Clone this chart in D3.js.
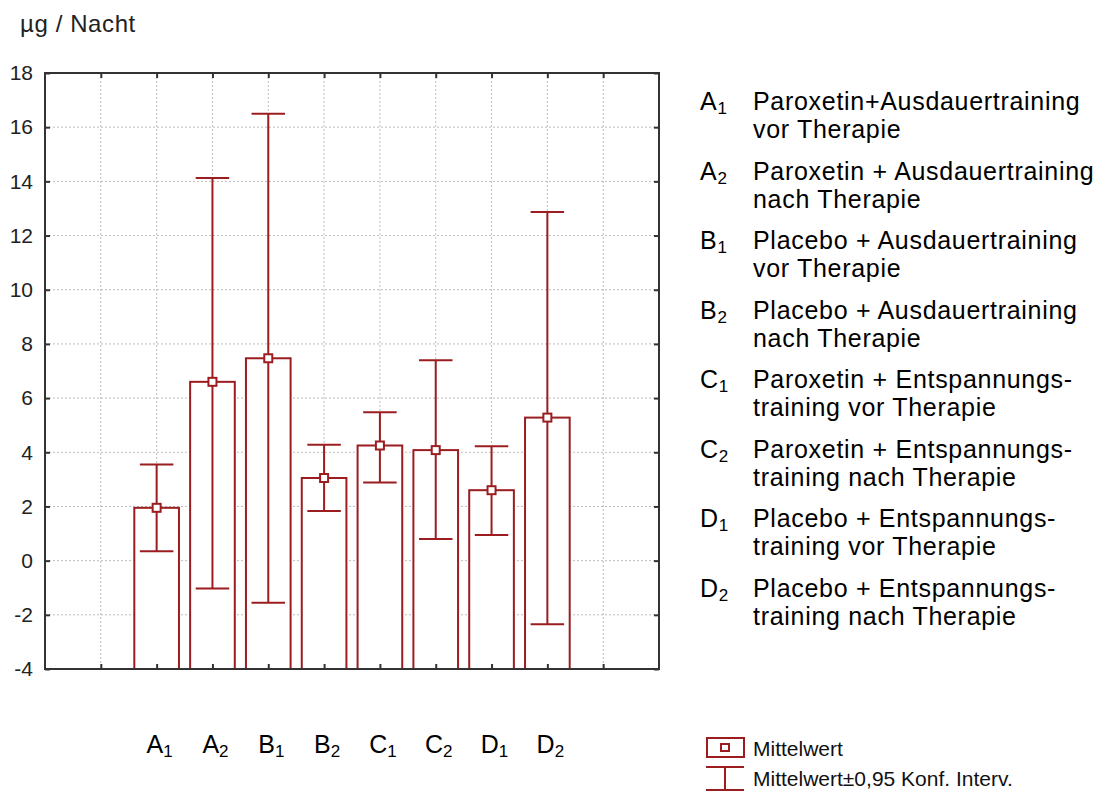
<!DOCTYPE html>
<html>
<head>
<meta charset="utf-8">
<script src="https://cdn.jsdelivr.net/npm/d3@7"></script>
<style>
  body { margin: 0; background: #fff; }
  svg { font-family: "Liberation Sans", Arial, sans-serif; }
</style>
</head>
<body>
<svg class="chart" width="1105" height="791"></svg>
<script>
// data
const groups = ["A", "A", "B", "B", "C", "C", "D", "D"];
const subs = ["1", "2", "1", "2", "1", "2", "1", "2"];
const means = [1.95, 6.6, 7.47, 3.05, 4.25, 4.08, 2.6, 5.28];
const lower = [0.35, -1.03, -1.55, 1.83, 2.88, 0.8, 0.95, -2.35];
const upper = [3.55, 14.12, 16.5, 4.28, 5.48, 7.4, 4.22, 12.87];
const descriptions = [
  ["Paroxetin+Ausdauertraining", "vor Therapie"],
  ["Paroxetin + Ausdauertraining", "nach Therapie"],
  ["Placebo + Ausdauertraining", "vor Therapie"],
  ["Placebo + Ausdauertraining", "nach Therapie"],
  ["Paroxetin + Entspannungs-", "training vor Therapie"],
  ["Paroxetin + Entspannungs-", "training nach Therapie"],
  ["Placebo + Entspannungs-", "training vor Therapie"],
  ["Placebo + Entspannungs-", "training nach Therapie"],
];
const yTicks = [-4, -2, 0, 2, 4, 6, 8, 10, 12, 14, 16, 18];
const legendLabels = ["Mittelwert", "Mittelwert±0,95 Konf. Interv."];

const red = "#9b1d20";
const svg = d3.select(".chart");

const pLeft = 45, pRight = 659, pTop = 73, pBottom = 669;
const x = d3.scaleLinear().domain([0, 11]).range([pLeft, pRight]);
const y = d3.scaleLinear().domain([-4, 18]).range([pBottom, pTop]);

const data = means.map((m, i) => ({
  g: groups[i], s: subs[i], pos: i + 2, mean: m, lo: lower[i], hi: upper[i]
}));

// grid
const grid = svg.append("g");
grid.selectAll("line.h")
  .data(yTicks.filter((t) => t > -4 && t < 18))
  .enter().append("line")
  .attr("x1", pLeft).attr("x2", pRight)
  .attr("y1", (d) => y(d)).attr("y2", (d) => y(d))
  .attr("stroke", "#bdbdbd").attr("stroke-dasharray", "2,2");
grid.selectAll("line.v")
  .data(d3.range(1, 11))
  .enter().append("line")
  .attr("y1", pTop).attr("y2", pBottom)
  .attr("x1", (d) => x(d)).attr("x2", (d) => x(d))
  .attr("stroke", "#bdbdbd").attr("stroke-dasharray", "2,2");

// bars + error bars
const plot = svg.append("g");
const halfBar = 0.4, halfCap = 0.3;

plot.selectAll("rect.bar")
  .data(data)
  .enter().append("rect")
  .attr("x", (d) => x(d.pos - halfBar))
  .attr("width", (d) => x(d.pos + halfBar) - x(d.pos - halfBar))
  .attr("y", (d) => y(d.mean))
  .attr("height", (d) => y(-4) - y(d.mean))
  .attr("fill", "#fff").attr("stroke", red).attr("stroke-width", 2);

plot.selectAll("line.whisk")
  .data(data)
  .enter().append("line")
  .attr("x1", (d) => x(d.pos)).attr("x2", (d) => x(d.pos))
  .attr("y1", (d) => y(d.lo)).attr("y2", (d) => y(d.hi))
  .attr("stroke", red).attr("stroke-width", 2);

["lo", "hi"].forEach((k) => {
  plot.selectAll("line.cap-" + k)
    .data(data)
    .enter().append("line")
    .attr("x1", (d) => x(d.pos - halfCap)).attr("x2", (d) => x(d.pos + halfCap))
    .attr("y1", (d) => y(d[k])).attr("y2", (d) => y(d[k]))
    .attr("stroke", red).attr("stroke-width", 2);
});

plot.selectAll("rect.mark")
  .data(data)
  .enter().append("rect")
  .attr("x", (d) => x(d.pos) - 4).attr("y", (d) => y(d.mean) - 4)
  .attr("width", 8).attr("height", 8)
  .attr("fill", "#fff").attr("stroke", red).attr("stroke-width", 2);

// frame and ticks
svg.append("rect")
  .attr("x", pLeft).attr("y", pTop)
  .attr("width", pRight - pLeft).attr("height", pBottom - pTop)
  .attr("fill", "none").attr("stroke", "#333").attr("stroke-width", 2);

const yAxis = svg.append("g")
  .attr("transform", `translate(${pLeft},0)`)
  .call(d3.axisLeft(y).tickValues(yTicks).tickSize(-5).tickPadding(12)
    .tickFormat((d) => String(d)));
yAxis.select(".domain").remove();
yAxis.selectAll("text")
  .attr("font-size", 21).attr("font-family", "Liberation Sans, Arial").attr("fill", "#222");

const yAxisR = svg.append("g")
  .attr("transform", `translate(${pRight},0)`)
  .call(d3.axisRight(y).tickValues(yTicks).tickSize(-5).tickFormat(""));
yAxisR.select(".domain").remove();

[[pTop, d3.axisTop], [pBottom, d3.axisBottom]].forEach(([py, ax]) => {
  const g = svg.append("g")
    .attr("transform", `translate(0,${py})`)
    .call(ax(x).tickValues(d3.range(1, 11)).tickSize(-5).tickFormat(""));
  g.select(".domain").remove();
});
svg.selectAll(".tick line").attr("stroke", "#333").attr("stroke-width", 2);

// y title
svg.append("text")
  .attr("x", 20).attr("y", 32)
  .attr("font-size", 24).attr("letter-spacing", 0.6).attr("fill", "#222")
  .text("µg / Nacht");

// x labels
const xl = svg.selectAll("text.xl")
  .data(data)
  .enter().append("text")
  .attr("x", (d) => x(d.pos) + 3)
  .attr("y", 753)
  .attr("text-anchor", "middle")
  .attr("font-size", 25)
  .attr("fill", "#000");
xl.append("tspan").text((d) => d.g);
xl.append("tspan").attr("font-size", 17).attr("dy", 4).text((d) => d.s);

// description legend
const desc = svg.selectAll("g.desc")
  .data(data)
  .enter().append("g")
  .attr("transform", (d, i) => `translate(700,${110 + i * 69.5})`)
  .attr("font-size", 25).attr("letter-spacing", 0.7).attr("fill", "#000");
const code = desc.append("text").attr("x", 0).attr("y", 0);
code.append("tspan").text((d) => d.g);
code.append("tspan").attr("font-size", 17).attr("dy", 4).text((d) => d.s);
desc.append("text").attr("x", 53).attr("y", 0).text((d, i) => descriptions[i][0]);
desc.append("text").attr("x", 53).attr("y", 28).text((d, i) => descriptions[i][1]);

// symbol legend
const lg = svg.append("g");
lg.append("rect").attr("x", 707).attr("y", 738).attr("width", 37).attr("height", 19)
  .attr("fill", "#fff").attr("stroke", red).attr("stroke-width", 2);
lg.append("rect").attr("x", 721).attr("y", 744).attr("width", 8).attr("height", 7)
  .attr("fill", "#fff").attr("stroke", red).attr("stroke-width", 2);
lg.append("line").attr("x1", 706).attr("x2", 744).attr("y1", 767).attr("y2", 767)
  .attr("stroke", red).attr("stroke-width", 2);
lg.append("line").attr("x1", 725).attr("x2", 725).attr("y1", 767).attr("y2", 790)
  .attr("stroke", red).attr("stroke-width", 2);
lg.append("line").attr("x1", 706).attr("x2", 744).attr("y1", 790).attr("y2", 790)
  .attr("stroke", red).attr("stroke-width", 2);
lg.selectAll("text")
  .data(legendLabels)
  .enter().append("text")
  .attr("x", 753).attr("y", (d, i) => 756 + i * 30)
  .attr("font-size", 21).attr("fill", "#111")
  .text((d) => d);
</script>
</body>
</html>
